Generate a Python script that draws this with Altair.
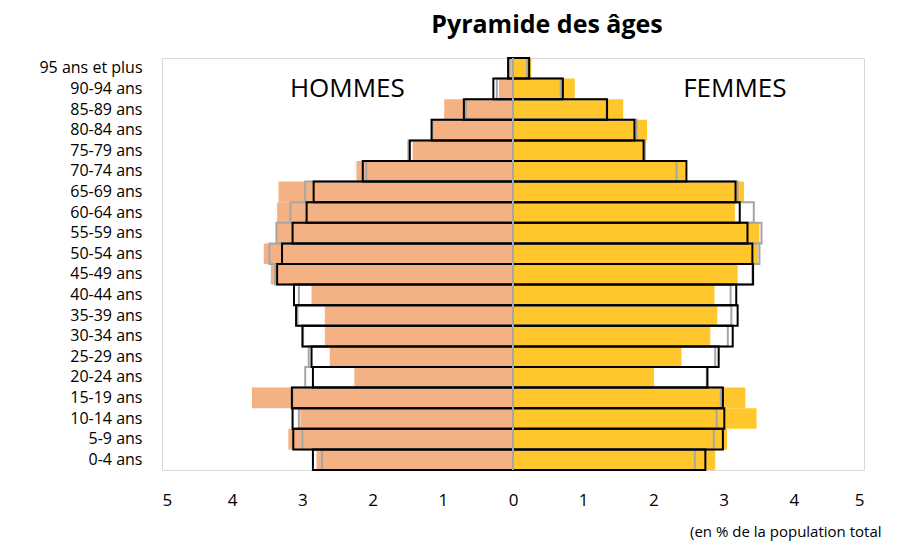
import altair as alt
import pandas as pd

ages = ["95 ans et plus", "90-94 ans", "85-89 ans", "80-84 ans", "75-79 ans",
        "70-74 ans", "65-69 ans", "60-64 ans", "55-59 ans", "50-54 ans",
        "45-49 ans", "40-44 ans", "35-39 ans", "30-34 ans", "25-29 ans",
        "20-24 ans", "15-19 ans", "10-14 ans", "5-9 ans", "0-4 ans"]

men_fill = [0.04, 0.20, 0.98, 1.16, 1.43, 2.23, 3.34, 3.36, 3.37, 3.55,
            3.45, 2.87, 2.68, 2.68, 2.61, 2.26, 3.72, 3.03, 3.20, 2.80]
men_black = [0.07, 0.28, 0.70, 1.16, 1.47, 2.14, 2.84, 2.94, 3.14, 3.29,
             3.36, 3.12, 3.09, 3.00, 2.87, 2.85, 3.15, 3.14, 3.13, 2.85]
men_grey = [0.05, 0.23, 0.67, 1.15, 1.49, 2.09, 2.96, 3.17, 3.37, 3.47,
            3.39, 3.05, 3.07, 2.99, 2.91, 2.96, 3.14, 3.05, 3.00, 2.72]

women_fill = [0.26, 0.88, 1.57, 1.91, 1.89, 2.45, 3.29, 3.16, 3.51, 3.49,
              3.20, 2.87, 2.91, 2.81, 2.40, 2.01, 3.31, 3.47, 3.05, 2.88]
women_black = [0.23, 0.71, 1.34, 1.73, 1.86, 2.47, 3.17, 3.23, 3.34, 3.41,
               3.42, 3.18, 3.20, 3.13, 2.93, 2.77, 2.99, 3.01, 2.99, 2.74]
women_grey = [0.20, 0.68, 1.33, 1.76, 1.88, 2.33, 3.20, 3.43, 3.54, 3.51,
              3.41, 3.10, 3.11, 3.06, 2.88, 2.76, 2.96, 2.90, 2.86, 2.59]

x_ticks = [-5, -4, -3, -2, -1, 0, 1, 2, 3, 4, 5]

FONT = "Open Sans"

rows = []
for series, m, w in [("fill", men_fill, women_fill),
                     ("black", men_black, women_black),
                     ("grey", men_grey, women_grey)]:
    for a, mv, wv in zip(ages, m, w):
        rows.append({"age": a, "sexe": "Hommes", "series": series, "value": -mv})
        rows.append({"age": a, "sexe": "Femmes", "series": series, "value": wv})
df = pd.DataFrame(rows)

xscale = alt.Scale(domain=[-5, 5], nice=False, zero=False)
yscale = alt.Scale(domain=ages, paddingInner=0, paddingOuter=0)

x_enc = alt.X("value:Q", scale=xscale,
              axis=alt.Axis(values=x_ticks, labelExpr="abs(datum.value)",
                            grid=False, ticks=False, domain=False, title=None,
                            labelFontSize=17, labelColor="#000000", labelFont=FONT,
                            labelPadding=22))
y_enc = alt.Y("age:N", scale=yscale, sort=ages,
              axis=alt.Axis(title=None, ticks=False, domain=False, tickSize=0,
                            labelFontSize=16, labelColor="#000000", labelFont=FONT,
                            labelPadding=20))

base = alt.Chart(df)

fill_bars = base.transform_filter(alt.datum.series == "fill").mark_bar(
    strokeWidth=0
).encode(
    x=x_enc, x2=alt.datum(0), y=y_enc,
    color=alt.Color("sexe:N", scale=alt.Scale(domain=["Hommes", "Femmes"],
                                              range=["#f4b183", "#ffc72c"]),
                    legend=None),
)

grey_bars = base.transform_filter(alt.datum.series == "grey").mark_bar(
    fillOpacity=0, stroke="#a6a6a6", strokeWidth=2
).encode(x=x_enc, x2=alt.datum(0), y=y_enc)

black_bars = base.transform_filter(alt.datum.series == "black").mark_bar(
    fillOpacity=0, stroke="#000000", strokeWidth=2
).encode(x=x_enc, x2=alt.datum(0), y=y_enc)

zero_line = alt.Chart(pd.DataFrame({"v": [0]})).mark_rule(
    color="#a6a6a6", strokeWidth=2
).encode(x=alt.X("v:Q", scale=xscale))

labels_df = pd.DataFrame({"t": ["HOMMES", "FEMMES"], "x": [-2.36, 3.16],
                          "age": ["90-94 ans", "90-94 ans"]})
sex_labels = alt.Chart(labels_df).mark_text(
    fontSize=26, font=FONT, color="#000000", align="center", baseline="middle"
).encode(x=alt.X("x:Q", scale=xscale), y=alt.Y("age:N", scale=yscale, sort=ages),
         text="t:N")

note = alt.Chart(pd.DataFrame({"t": ["(en % de la population total"]})).mark_text(
    fontSize=15, font=FONT, color="#000000", align="left", baseline="middle"
).encode(x=alt.value(528), y=alt.value(474), text="t:N")

chart = alt.layer(fill_bars, grey_bars, black_bars, zero_line, sex_labels, note).properties(
    width=702, height=412,
    title=alt.TitleParams("Pyramide des âges", font=FONT, fontSize=25, fontWeight="bold",
                          color="#000000", anchor="middle", dx=34, offset=19),
    autosize=alt.AutoSizeParams(type="none"),
    padding={"left": 154, "top": 50, "right": 38, "bottom": 72},
).configure_view(stroke="#d9d9d9", strokeWidth=1)

chart.save("out.html", embed_options={"renderer": "svg", "actions": False})
